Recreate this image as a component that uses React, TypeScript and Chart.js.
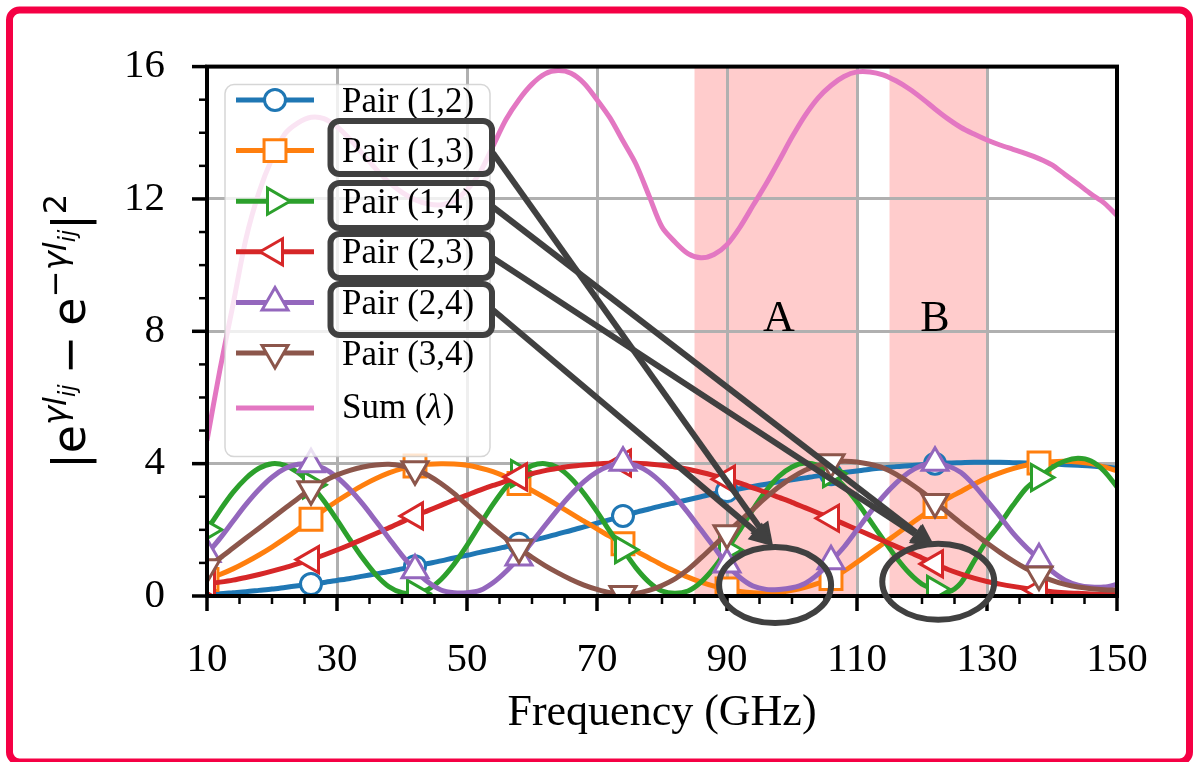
import React, { useEffect, useRef } from 'react';
import { Chart, registerables } from 'chart.js';

Chart.register(...registerables);

// ---------------- data ----------------
const freq = [10, 12, 14, 16, 18, 20, 22, 24, 26, 28, 30, 32, 34, 36, 38, 40, 42, 44, 46, 48, 50, 52, 54, 56, 58, 60, 62, 64, 66, 68, 70, 72, 74, 76, 78, 80, 82, 84, 86, 88, 90, 92, 94, 96, 98, 100, 102, 104, 106, 108, 110, 112, 114, 116, 118, 120, 122, 124, 126, 128, 130, 132, 134, 136, 138, 140, 142, 144, 146, 148, 150];

const pair12 = [0.05, 0.07, 0.10, 0.13, 0.17, 0.21, 0.26, 0.31, 0.36, 0.41, 0.47, 0.53, 0.60, 0.67, 0.74, 0.82, 0.90, 0.98, 1.06, 1.15, 1.23, 1.32, 1.40, 1.49, 1.58, 1.68, 1.77, 1.88, 1.98, 2.09, 2.20, 2.31, 2.42, 2.53, 2.63, 2.73, 2.82, 2.91, 3.00, 3.09, 3.17, 3.24, 3.31, 3.38, 3.45, 3.51, 3.57, 3.63, 3.68, 3.73, 3.78, 3.83, 3.87, 3.91, 3.94, 3.97, 4.00, 4.02, 4.03, 4.04, 4.04, 4.04, 4.03, 4.02, 4.01, 3.99, 3.97, 3.95, 3.93, 3.90, 3.87];

const pair13 = [0.50, 0.65, 0.82, 1.02, 1.24, 1.48, 1.74, 2.02, 2.32, 2.60, 2.87, 3.12, 3.35, 3.55, 3.72, 3.85, 3.93, 3.98, 4.00, 3.99, 3.95, 3.87, 3.76, 3.60, 3.40, 3.19, 2.97, 2.74, 2.50, 2.26, 2.03, 1.80, 1.58, 1.36, 1.15, 0.94, 0.75, 0.57, 0.42, 0.30, 0.21, 0.14, 0.10, 0.09, 0.11, 0.17, 0.26, 0.38, 0.53, 0.75, 1.02, 1.30, 1.58, 1.86, 2.14, 2.42, 2.70, 2.95, 3.16, 3.38, 3.57, 3.72, 3.85, 3.95, 4.02, 4.06, 4.07, 4.05, 4.00, 3.90, 3.78];

const pair14 = [2.00, 2.59, 3.13, 3.56, 3.86, 4.00, 3.95, 3.73, 3.36, 2.87, 2.30, 1.70, 1.13, 0.64, 0.28, 0.10, 0.08, 0.20, 0.50, 0.96, 1.53, 2.16, 2.77, 3.30, 3.70, 3.94, 4.00, 3.88, 3.56, 3.10, 2.55, 1.95, 1.40, 0.85, 0.42, 0.15, 0.08, 0.15, 0.42, 0.85, 1.40, 2.00, 2.62, 3.18, 3.62, 3.90, 4.02, 3.95, 3.70, 3.32, 2.84, 2.28, 1.72, 1.17, 0.70, 0.36, 0.20, 0.12, 0.40, 1.05, 1.68, 2.18, 2.74, 3.25, 3.58, 3.88, 4.08, 4.16, 4.08, 3.78, 3.30];

const pair23 = [0.37, 0.42, 0.48, 0.56, 0.65, 0.75, 0.86, 0.98, 1.10, 1.24, 1.39, 1.55, 1.72, 1.89, 2.06, 2.24, 2.42, 2.58, 2.74, 2.90, 3.05, 3.20, 3.34, 3.47, 3.60, 3.70, 3.79, 3.86, 3.92, 3.96, 3.99, 4.01, 4.02, 4.01, 3.99, 3.95, 3.90, 3.83, 3.74, 3.64, 3.53, 3.41, 3.27, 3.13, 2.98, 2.83, 2.67, 2.51, 2.35, 2.18, 2.01, 1.84, 1.67, 1.50, 1.33, 1.15, 0.97, 0.80, 0.66, 0.54, 0.44, 0.36, 0.29, 0.23, 0.18, 0.13, 0.10, 0.08, 0.06, 0.05, 0.05];

const pair24 = [1.27, 1.74, 2.26, 2.77, 3.22, 3.59, 3.85, 3.98, 3.98, 3.85, 3.59, 3.22, 2.77, 2.26, 1.74, 1.23, 0.78, 0.42, 0.18, 0.10, 0.10, 0.17, 0.40, 0.74, 1.16, 1.63, 2.13, 2.62, 3.07, 3.46, 3.75, 3.94, 4.03, 3.95, 3.74, 3.41, 3.00, 2.52, 2.00, 1.48, 0.95, 0.56, 0.30, 0.20, 0.20, 0.25, 0.38, 0.66, 1.05, 1.48, 2.00, 2.52, 3.00, 3.41, 3.74, 3.95, 4.03, 3.93, 3.73, 3.35, 2.88, 2.40, 1.90, 1.48, 1.11, 0.75, 0.48, 0.33, 0.27, 0.27, 0.35];

const pair34 = [0.87, 1.15, 1.45, 1.75, 2.05, 2.35, 2.65, 2.95, 3.23, 3.47, 3.66, 3.80, 3.90, 3.96, 3.98, 3.93, 3.83, 3.65, 3.40, 3.10, 2.75, 2.40, 2.05, 1.74, 1.46, 1.17, 0.92, 0.70, 0.50, 0.33, 0.20, 0.10, 0.06, 0.08, 0.17, 0.32, 0.52, 0.80, 1.15, 1.52, 1.90, 2.27, 2.62, 2.98, 3.30, 3.58, 3.80, 3.95, 4.04, 4.07, 4.05, 3.98, 3.87, 3.68, 3.43, 3.15, 2.84, 2.52, 2.20, 1.90, 1.60, 1.32, 1.06, 0.83, 0.65, 0.47, 0.35, 0.27, 0.22, 0.19, 0.18];

const sumLambda = [4.70, 6.85, 8.80, 10.80, 12.20, 13.22, 13.97, 14.30, 14.47, 14.43, 14.18, 13.80, 13.35, 12.90, 12.50, 12.20, 11.98, 11.85, 11.82, 11.95, 12.27, 12.80, 13.60, 14.40, 15.00, 15.47, 15.78, 15.88, 15.80, 15.50, 15.00, 14.45, 13.75, 13.05, 12.10, 11.15, 10.70, 10.35, 10.22, 10.32, 10.62, 11.15, 11.80, 12.45, 13.15, 13.87, 14.52, 15.05, 15.43, 15.70, 15.84, 15.84, 15.75, 15.57, 15.33, 15.04, 14.72, 14.42, 14.16, 13.96, 13.78, 13.63, 13.50, 13.37, 13.22, 13.03, 12.74, 12.45, 12.15, 11.88, 11.50];

const seriesNames = ['Pair (1,2)', 'Pair (1,3)', 'Pair (1,4)', 'Pair (2,3)', 'Pair (2,4)', 'Pair (3,4)', 'Sum (λ)'];
const xTickValues = [10, 30, 50, 70, 90, 110, 130, 150];
const yTickValues = [0, 4, 8, 12, 16];
const bandA = [85, 110];
const bandB = [115, 130];
const bandLabels = ['A', 'B'];
const bandLabelFreq = [98, 122];
const bandLabelLevel = 8;
// highlighted regions (ellipses) in data units: centre freq, centre value
const circleA = [97.4, 0.33];
const circleB = [122.5, 0.43];
const arrowTipA = [97.1, 1.5];
const arrowTipB = [122.0, 1.48];

// ---------------- styles ----------------
const COLORS = ['#1f77b4', '#ff7f0e', '#2ca02c', '#d62728', '#9467bd', '#8c564b', '#e377c2'];
const MARKERS = [
  { style: 'circle', rot: 0, r: 10.5 },
  { style: 'rect', rot: 0, r: 15.5 },
  { style: 'triangle', rot: 90, r: 15 },
  { style: 'triangle', rot: -90, r: 15 },
  { style: 'triangle', rot: 0, r: 15 },
  { style: 'triangle', rot: 180, r: 15 },
];
const SERIF = '"Liberation Serif", "Times New Roman", serif';
const SANS = '"DejaVu Sans", sans-serif';
const DARK = '#404040';

function rrect(ctx: CanvasRenderingContext2D, x: number, y: number, w: number, h: number, r: number) {
  ctx.beginPath();
  ctx.moveTo(x + r, y);
  ctx.lineTo(x + w - r, y);
  ctx.arcTo(x + w, y, x + w, y + r, r);
  ctx.lineTo(x + w, y + h - r);
  ctx.arcTo(x + w, y + h, x + w - r, y + h, r);
  ctx.lineTo(x + r, y + h);
  ctx.arcTo(x, y + h, x, y + h - r, r);
  ctx.lineTo(x, y + r);
  ctx.arcTo(x, y, x + r, y, r);
  ctx.closePath();
}

function drawMarker(ctx: CanvasRenderingContext2D, m: any, x: number, y: number, color: string) {
  ctx.save();
  ctx.beginPath();
  if (m.style === 'circle') {
    ctx.arc(x, y, m.r, 0, Math.PI * 2);
  } else if (m.style === 'rect') {
    const s = m.r * Math.SQRT1_2;
    ctx.rect(x - s, y - s, 2 * s, 2 * s);
  } else {
    let rad = (m.rot * Math.PI) / 180;
    for (let k = 0; k < 3; k++) {
      const px = x + Math.sin(rad) * m.r;
      const py = y - Math.cos(rad) * m.r;
      if (k === 0) ctx.moveTo(px, py);
      else ctx.lineTo(px, py);
      rad += (2 * Math.PI) / 3;
    }
    ctx.closePath();
  }
  ctx.fillStyle = '#ffffff';
  ctx.fill();
  ctx.lineWidth = 3;
  ctx.strokeStyle = color;
  ctx.stroke();
  ctx.restore();
}

function drawArrow(ctx: CanvasRenderingContext2D, x0: number, y0: number, x1: number, y1: number) {
  const ang = Math.atan2(y1 - y0, x1 - x0);
  const L = 24;
  const W = 11;
  const bx = x1 - Math.cos(ang) * L;
  const by = y1 - Math.sin(ang) * L;
  ctx.save();
  ctx.strokeStyle = DARK;
  ctx.fillStyle = DARK;
  ctx.lineWidth = 6;
  ctx.lineCap = 'butt';
  ctx.beginPath();
  ctx.moveTo(x0, y0);
  ctx.lineTo(bx, by);
  ctx.stroke();
  ctx.beginPath();
  ctx.moveTo(x1, y1);
  ctx.lineTo(bx + Math.sin(ang) * W, by - Math.cos(ang) * W);
  ctx.lineTo(bx - Math.sin(ang) * W, by + Math.cos(ang) * W);
  ctx.closePath();
  ctx.fill();
  ctx.restore();
}

function drawYLabel(ctx: CanvasRenderingContext2D, cx: number, cy: number) {
  const S = 46;
  const P = S * 0.7;
  const Q = P * 0.7;
  const up = -S * 0.42;
  const sub = up + P * 0.3;
  const pieces: any[] = [
    { t: '|', s: S, dy: 0, it: false },
    { t: 'e', s: S, dy: 0, it: false },
    { t: 'γ', s: P, dy: up, it: true },
    { t: 'l', s: P, dy: up, it: true },
    { t: 'ij', s: Q, dy: sub, it: true },
    { gap: S * 0.22 },
    { t: '−', s: S, dy: 0, it: false },
    { gap: S * 0.22 },
    { t: 'e', s: S, dy: 0, it: false },
    { t: '−', s: P, dy: up, it: false },
    { t: 'γ', s: P, dy: up, it: true },
    { t: 'l', s: P, dy: up, it: true },
    { t: 'ij', s: Q, dy: sub, it: true },
    { t: '|', s: S, dy: 0, it: false },
    { t: '2', s: P, dy: up, it: false },
  ];
  ctx.save();
  ctx.translate(cx, cy);
  ctx.rotate(-Math.PI / 2);
  ctx.fillStyle = '#000';
  ctx.textBaseline = 'alphabetic';
  ctx.textAlign = 'left';
  let total = 0;
  for (const p of pieces) {
    if (p.gap) { p.w = p.gap; total += p.gap; continue; }
    ctx.font = `${p.it ? 'italic ' : ''}${p.s}px ${SANS}`;
    p.w = ctx.measureText(p.t).width;
    total += p.w;
  }
  let x = -total / 2;
  for (const p of pieces) {
    if (!p.gap) {
      ctx.font = `${p.it ? 'italic ' : ''}${p.s}px ${SANS}`;
      ctx.fillText(p.t, x, p.dy);
    }
    x += p.w;
  }
  ctx.restore();
}

const decorPlugin = {
  id: 'decor',
  beforeDraw(chart: any) {
    const { ctx, chartArea: a } = chart;
    const xs = chart.scales.x;
    ctx.save();
    ctx.fillStyle = '#ffffff';
    ctx.fillRect(0, 0, chart.width, chart.height);
    ctx.fillStyle = 'rgba(255, 0, 0, 0.2)';
    for (const b of [bandA, bandB]) {
      const x0 = xs.getPixelForValue(b[0]);
      const x1 = xs.getPixelForValue(b[1]);
      ctx.fillRect(x0, a.top, x1 - x0, a.bottom - a.top);
    }
    ctx.restore();
  },
  afterDraw(chart: any) {
    const { ctx, chartArea: a } = chart;
    const xs = chart.scales.x;
    const ys = chart.scales.y;
    ctx.save();

    // spines
    ctx.strokeStyle = '#000';
    ctx.lineWidth = 4;
    ctx.strokeRect(a.left, a.top, a.right - a.left, a.bottom - a.top);

    // ticks (major + minor)
    for (let v = 10; v <= 150; v += 5) {
      const major = xTickValues.includes(v);
      const px = xs.getPixelForValue(v);
      ctx.lineWidth = major ? 3.5 : 2.5;
      ctx.beginPath();
      ctx.moveTo(px, a.bottom);
      ctx.lineTo(px, a.bottom + (major ? 15 : 8));
      ctx.stroke();
    }
    for (let v = 0; v <= 16; v += 1) {
      const major = yTickValues.includes(v);
      const py = ys.getPixelForValue(v);
      ctx.lineWidth = major ? 3.5 : 2.5;
      ctx.beginPath();
      ctx.moveTo(a.left, py);
      ctx.lineTo(a.left - (major ? 15 : 8), py);
      ctx.stroke();
    }

    // band labels
    ctx.fillStyle = '#000';
    ctx.font = `44px ${SERIF}`;
    ctx.textAlign = 'center';
    ctx.textBaseline = 'alphabetic';
    bandLabels.forEach((t, i) => {
      ctx.fillText(t, xs.getPixelForValue(bandLabelFreq[i]), ys.getPixelForValue(bandLabelLevel));
    });

    // legend
    const lx = a.left + 18;
    const ly = a.top + 18;
    rrect(ctx, lx, ly, 265, 372, 9);
    ctx.fillStyle = 'rgba(255,255,255,0.8)';
    ctx.fill();
    ctx.lineWidth = 1.5;
    ctx.strokeStyle = 'rgba(204,204,204,0.8)';
    ctx.stroke();
    const rows = [100, 150.6, 201.2, 251.8, 302.4, 353, 408];
    seriesNames.forEach((name, i) => {
      const y = rows[i];
      ctx.strokeStyle = COLORS[i];
      ctx.lineWidth = 5;
      ctx.beginPath();
      ctx.moveTo(236, y);
      ctx.lineTo(314, y);
      ctx.stroke();
      if (MARKERS[i]) drawMarker(ctx, MARKERS[i], 275, y, COLORS[i]);
      ctx.fillStyle = '#000';
      ctx.textAlign = 'left';
      ctx.textBaseline = 'alphabetic';
      if (i < 6) {
        ctx.font = `35px ${SERIF}`;
        ctx.fillText(name, 342, y + 11.5);
      } else {
        ctx.font = `35px ${SERIF}`;
        let x = 342;
        ctx.fillText('Sum (', x, y + 10);
        x += ctx.measureText('Sum (').width;
        ctx.font = `italic 35px ${SERIF}`;
        ctx.fillText('λ', x, y + 10);
        x += ctx.measureText('λ').width + 1;
        ctx.font = `35px ${SERIF}`;
        ctx.fillText(')', x, y + 10);
      }
    });

    // annotation boxes around legend entries
    const boxes = [
      [121, 174],
      [183, 228],
      [234, 278],
      [284, 335],
    ];
    ctx.strokeStyle = DARK;
    ctx.lineWidth = 6;
    for (const b of boxes) {
      rrect(ctx, 330.5, b[0], 161.5, b[1] - b[0], 9);
      ctx.stroke();
    }

    // arrows
    const tipA = [xs.getPixelForValue(arrowTipA[0]), ys.getPixelForValue(arrowTipA[1])];
    const tipB = [xs.getPixelForValue(arrowTipB[0]), ys.getPixelForValue(arrowTipB[1])];
    const starts = [153, 207, 258, 310];
    const targets = [tipA, tipB, tipB, tipA];
    starts.forEach((sy, i) => drawArrow(ctx, 493, sy, targets[i][0], targets[i][1]));

    // ellipses
    ctx.strokeStyle = DARK;
    ctx.lineWidth = 6;
    for (const c of [circleA, circleB]) {
      ctx.beginPath();
      ctx.ellipse(xs.getPixelForValue(c[0]), ys.getPixelForValue(c[1]), 56, 38, 0, 0, Math.PI * 2);
      ctx.stroke();
    }

    // y label
    drawYLabel(ctx, 85, (a.top + a.bottom) / 2);

    // outer frame
    ctx.strokeStyle = '#f50044';
    ctx.lineWidth = 7;
    rrect(ctx, 9.5, 10, 1180, 752, 10);
    ctx.stroke();

    ctx.restore();
  },
};

const pairSeries = [pair12, pair13, pair14, pair23, pair24, pair34];

export default function App() {
  const ref = useRef<HTMLCanvasElement>(null);
  useEffect(() => {
    if (!ref.current) return;
    const datasets: any[] = pairSeries.map((s, i) => ({
      label: seriesNames[i],
      data: freq.map((f, k) => ({ x: f, y: s[k] })),
      borderColor: COLORS[i],
      backgroundColor: COLORS[i],
      borderWidth: 5,
      pointStyle: MARKERS[i].style,
      pointRotation: MARKERS[i].rot,
      pointRadius: (c: any) => ((freq[c.dataIndex] - 10) % 16 === 0 ? MARKERS[i].r : 0),
      pointHoverRadius: 0,
      pointBackgroundColor: '#ffffff',
      pointBorderColor: COLORS[i],
      pointBorderWidth: 3,
      tension: 0.3,
      fill: false,
      clip: 0,
      order: 7 - i,
    }));
    datasets.push({
      label: seriesNames[6],
      data: freq.map((f, k) => ({ x: f, y: sumLambda[k] })),
      borderColor: COLORS[6],
      backgroundColor: COLORS[6],
      borderWidth: 5,
      pointRadius: 0,
      pointHoverRadius: 0,
      tension: 0.3,
      fill: false,
      clip: 0,
      order: 0,
    });

    const chart = new Chart(ref.current, {
      type: 'line',
      data: { datasets },
      plugins: [decorPlugin],
      options: {
        responsive: false,
        animation: false,
        devicePixelRatio: 1,
        events: [],
        layout: { padding: { left: 0, top: 55, right: 78, bottom: 0 } },
        plugins: { legend: { display: false }, tooltip: { enabled: false }, title: { display: false } },
        scales: {
          x: {
            type: 'linear',
            min: 10,
            max: 150,
            afterBuildTicks: (s: any) => { s.ticks = xTickValues.map((v) => ({ value: v })); },
            afterFit: (s: any) => { s.height = 166; },
            ticks: { font: { family: SERIF, size: 41 }, color: '#000', padding: 40, maxRotation: 0, autoSkip: false },
            grid: { color: '#b0b0b0', lineWidth: 3, drawTicks: false },
            border: { display: false },
            title: { display: true, text: 'Frequency (GHz)', font: { family: SERIF, size: 44 }, color: '#000', padding: { top: 0, bottom: 22 } },
          },
          y: {
            type: 'linear',
            min: 0,
            max: 16,
            afterBuildTicks: (s: any) => { s.ticks = yTickValues.map((v) => ({ value: v })); },
            afterFit: (s: any) => { s.width = 207; },
            ticks: { font: { family: SERIF, size: 41 }, color: '#000', padding: 42, autoSkip: false },
            grid: { color: '#b0b0b0', lineWidth: 3, drawTicks: false },
            border: { display: false },
            title: { display: false },
          },
        },
      } as any,
    });
    return () => chart.destroy();
  }, []);

  return (
    <div style={{ position: 'absolute', left: 0, top: 0, width: 1195, height: 762 }}>
      <canvas ref={ref} width={1195} height={762} style={{ display: 'block' }} />
    </div>
  );
}
